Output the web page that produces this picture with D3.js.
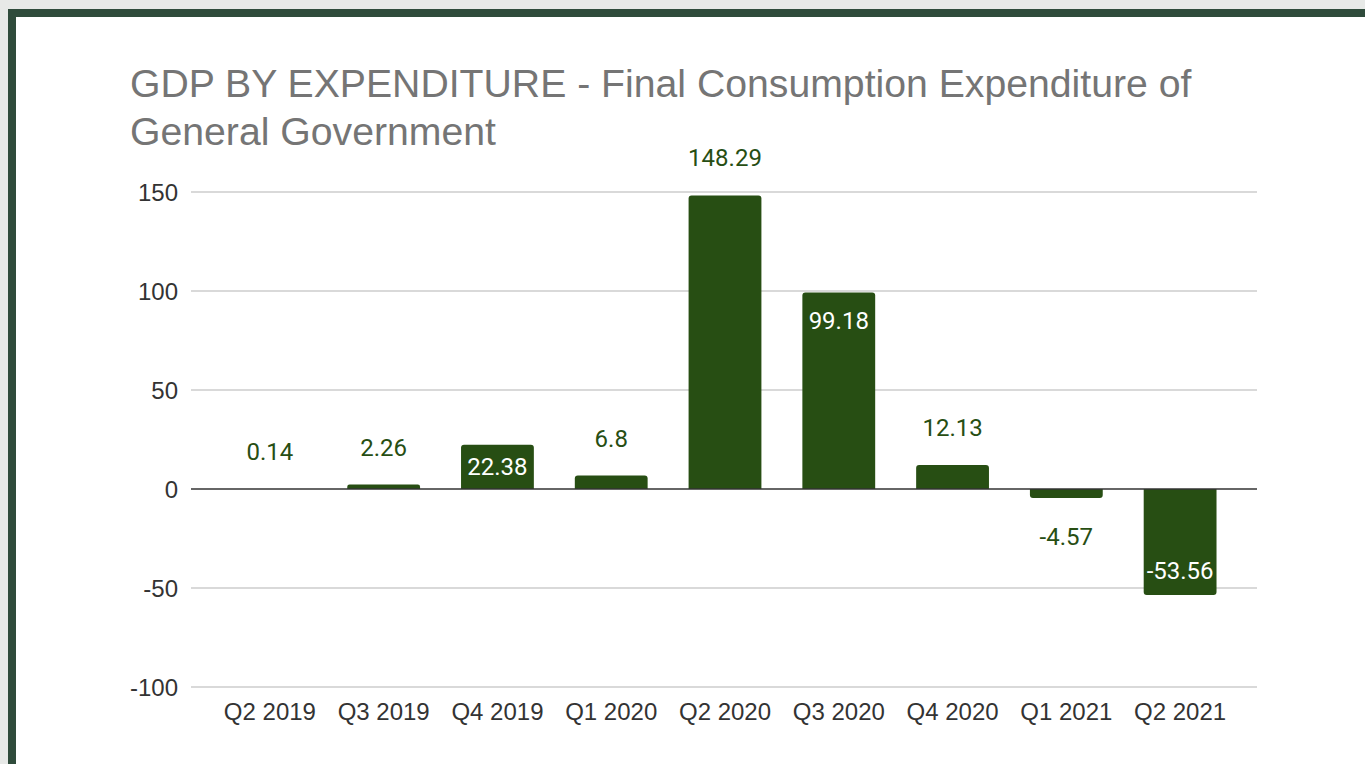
<!DOCTYPE html>
<html>
<head>
<meta charset="utf-8">
<script src="https://cdn.jsdelivr.net/npm/d3@7.9.0/dist/d3.min.js"></script>
<style>
  html, body { margin: 0; padding: 0; background: #e7e9e7; }
  svg { display: block; }
</style>
</head>
<body>
<svg id="chart" width="1365" height="764"></svg>
<script>
// data
const quarters = ['Q2 2019', 'Q3 2019', 'Q4 2019', 'Q1 2020', 'Q2 2020',
                  'Q3 2020', 'Q4 2020', 'Q1 2021', 'Q2 2021'];
const values = [0.14, 2.26, 22.38, 6.8, 148.29, 99.18, 12.13, -4.57, -53.56];
const yTicks = [-100, -50, 0, 50, 100, 150];
const titleLines = ['GDP BY EXPENDITURE - Final Consumption Expenditure of',
                    'General Government'];

const W = 1365, H = 764;
const barColor = '#274e13';
const svg = d3.select('#chart');

// frame: light page, dark green border top + left, white card
svg.append('rect').attr('width', W).attr('height', H).attr('fill', '#e7e9e7');
svg.append('rect').attr('x', 8).attr('y', 9).attr('width', W - 8).attr('height', H - 9)
  .attr('fill', '#2f4b3b');
svg.append('rect').attr('x', 16).attr('y', 17).attr('width', W - 16).attr('height', H - 17)
  .attr('fill', '#ffffff');

// title
svg.append('g')
  .selectAll('text')
  .data(titleLines)
  .join('text')
  .attr('x', 130)
  .attr('y', (_d, i) => 97 + i * 48)
  .attr('font-family', '"Liberation Sans", Arial, sans-serif')
  .attr('font-size', 39.2)
  .attr('fill', '#757575')
  .text(d => d);

// scales
const gridLeft = 191, gridRight = 1257;
const x = d3.scaleBand()
  .domain(quarters)
  .range([213, 1237])
  .paddingInner(0.36)
  .paddingOuter(0.18);

const y = d3.scaleLinear()
  .domain([-100, 150])
  .range([687, 192]);

// gridlines
svg.append('g')
  .selectAll('line')
  .data(yTicks.filter(t => t !== 0))
  .join('line')
  .attr('x1', gridLeft).attr('x2', gridRight)
  .attr('y1', d => y(d)).attr('y2', d => y(d))
  .attr('stroke', '#cccccc')
  .attr('stroke-width', 1.5);

// y axis labels (plain hyphen minus like the original)
const yAxis = d3.axisLeft(y).tickValues(yTicks).tickSize(0).tickPadding(0)
  .tickFormat(d => String(d));
const yG = svg.append('g')
  .attr('transform', `translate(178,0)`)
  .call(yAxis);
yG.select('.domain').remove();
yG.selectAll('text')
  .attr('font-family', '"Liberation Sans", Arial, sans-serif')
  .attr('font-size', 24)
  .attr('fill', '#333333')
  .attr('dy', '0.36em');

// x axis labels
const xAxis = d3.axisBottom(x).tickSize(0).tickPadding(0);
const xG = svg.append('g')
  .attr('transform', `translate(0,720)`)
  .call(xAxis);
xG.select('.domain').remove();
xG.selectAll('text')
  .attr('font-family', '"Liberation Sans", Arial, sans-serif')
  .attr('font-size', 24)
  .attr('fill', '#333333')
  .attr('dy', 0);

// bars with rounded outer corners
const r = 3;
function barPath(d, i) {
  const x0 = x(quarters[i]), w = x.bandwidth();
  const y0 = y(0), y1 = y(d);
  const h = Math.abs(y1 - y0);
  const rr = Math.min(r, h / 2, w / 2);
  if (h < 0.5) return `M${x0},${y0}h${w}`;
  if (d >= 0) {
    return `M${x0},${y0}V${y1 + rr}Q${x0},${y1} ${x0 + rr},${y1}` +
           `H${x0 + w - rr}Q${x0 + w},${y1} ${x0 + w},${y1 + rr}V${y0}Z`;
  }
  return `M${x0},${y0}V${y1 - rr}Q${x0},${y1} ${x0 + rr},${y1}` +
         `H${x0 + w - rr}Q${x0 + w},${y1} ${x0 + w},${y1 - rr}V${y0}Z`;
}
svg.append('g')
  .selectAll('path')
  .data(values)
  .join('path')
  .attr('d', (d, i) => barPath(d, i))
  .attr('fill', barColor);

// zero line
svg.append('line')
  .attr('x1', gridLeft).attr('x2', gridRight)
  .attr('y1', y(0)).attr('y2', y(0))
  .attr('stroke', '#333333')
  .attr('stroke-width', 1.5);

// data labels: inside when the bar is tall enough (the tallest bar keeps
// its label above, where there is room), otherwise outside
const capH = 17;
const maxVal = d3.max(values);
const isInside = d => Math.abs(y(d) - y(0)) > 30 && d !== maxVal;
svg.append('g')
  .selectAll('text')
  .data(values)
  .join('text')
  .attr('x', (_d, i) => x(quarters[i]) + x.bandwidth() / 2)
  .attr('y', d => {
    const inside = isInside(d);
    if (d >= 0) {
      if (!inside) return y(d) - 29;
      return Math.min(y(d) + 19 + capH, (y(d) + y(0)) / 2 + capH / 2);
    }
    if (!inside) return y(d) + 30 + capH;
    return y(d) - 16;
  })
  .attr('text-anchor', 'middle')
  .attr('font-family', 'Roboto, sans-serif')
  .attr('font-size', 24)
  .attr('fill', d => isInside(d) ? '#ffffff' : barColor)
  .text(d => d);
</script>
</body>
</html>
